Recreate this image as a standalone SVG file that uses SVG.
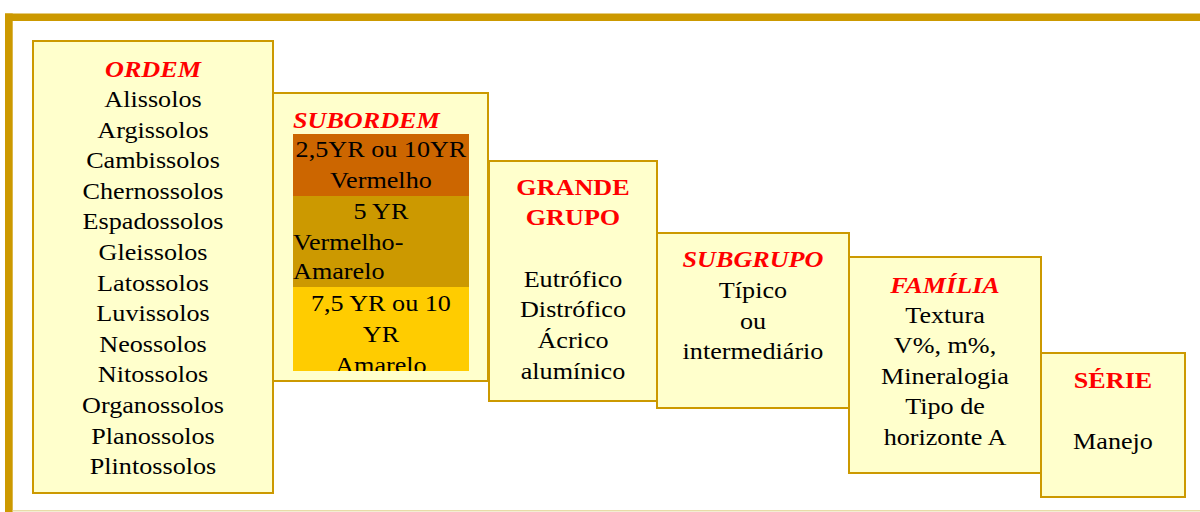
<svg xmlns="http://www.w3.org/2000/svg" width="1200" height="512" viewBox="0 0 1200 512">
<defs>
<style>
.box{fill:#FFFFCC;stroke:#CC9900;stroke-width:2}
text{font-family:"Liberation Serif","Times New Roman",serif;font-size:24px;fill:#000;text-anchor:middle}
.ti{fill:#FF0000;font-weight:bold;font-style:italic}
.tb{fill:#FF0000;font-weight:bold}
.l{text-anchor:start}
</style>
<clipPath id="bandclip"><rect x="293" y="134" width="176" height="237"/></clipPath>
</defs>
<rect x="0" y="0" width="1200" height="512" fill="#FFFFFF"/>
<g id="frame">
<rect x="5" y="13.5" width="1195" height="7.5" fill="#CC9900"/>
<rect x="5" y="13.5" width="7.7" height="498.5" fill="#CC9900"/>
<line x1="12.7" y1="510.7" x2="1200" y2="510.7" stroke="#E8DCA8" stroke-width="1.5"/>
</g>
<g id="connectors"></g>
<g id="ordem">
<rect class="box" x="33" y="41" width="240" height="452"/>
<g transform="translate(153,0) scale(1.09,1)">
<text class="ti" x="0" y="77">ORDEM</text>
<text x="0" y="107">Alissolos</text>
<text x="0" y="137.6">Argissolos</text>
<text x="0" y="168.2">Cambissolos</text>
<text x="0" y="198.8">Chernossolos</text>
<text x="0" y="229.4">Espadossolos</text>
<text x="0" y="260">Gleissolos</text>
<text x="0" y="290.6">Latossolos</text>
<text x="0" y="321.2">Luvissolos</text>
<text x="0" y="351.8">Neossolos</text>
<text x="0" y="382.4">Nitossolos</text>
<text x="0" y="413">Organossolos</text>
<text x="0" y="443.6">Planossolos</text>
<text x="0" y="474.2">Plintossolos</text>
</g>
</g>
<g id="subordem">
<rect class="box" x="273" y="93" width="215" height="288"/>
<rect x="293" y="134" width="176" height="62" fill="#CC6600"/>
<rect x="293" y="196" width="176" height="91" fill="#CC9900"/>
<rect x="293" y="287" width="176" height="84" fill="#FFCC00"/>
<g clip-path="url(#bandclip)">
<g transform="translate(293,0) scale(1.09,1)">
<text x="80.7" y="157">2,5YR ou 10YR</text>
<text x="80.7" y="188">Vermelho</text>
<text x="80.7" y="219">5 YR</text>
<text class="l" x="0" y="250">Vermelho-</text>
<text class="l" x="0" y="279">Amarelo</text>
<text x="80.7" y="311">7,5 YR ou 10</text>
<text x="80.7" y="342">YR</text>
<text x="80.7" y="373">Amarelo</text>
</g>
</g>
<g transform="translate(293,0) scale(1.09,1)">
<text class="ti l" x="0" y="128">SUBORDEM</text>
</g>
</g>
<g id="grande-grupo">
<rect class="box" x="489" y="161" width="168" height="240"/>
<g transform="translate(573,0) scale(1.09,1)">
<text class="tb" x="0" y="195">GRANDE</text>
<text class="tb" x="0" y="225">GRUPO</text>
<text x="0" y="287">Eutrófico</text>
<text x="0" y="317.5">Distrófico</text>
<text x="0" y="348">Ácrico</text>
<text x="0" y="379">alumínico</text>
</g>
</g>
<g id="subgrupo">
<rect class="box" x="657" y="233" width="192" height="175"/>
<g transform="translate(753,0) scale(1.09,1)">
<text class="ti" x="0" y="267">SUBGRUPO</text>
<text x="0" y="298">Típico</text>
<text x="0" y="329">ou</text>
<text x="0" y="359">intermediário</text>
</g>
</g>
<g id="familia">
<rect class="box" x="849" y="257" width="192" height="216"/>
<g transform="translate(945,0) scale(1.09,1)">
<text class="ti" x="0" y="293">FAMÍLIA</text>
<text x="0" y="323">Textura</text>
<text x="0" y="353.5">V%, m%,</text>
<text x="0" y="384">Mineralogia</text>
<text x="0" y="414.5">Tipo de</text>
<text x="0" y="445">horizonte A</text>
</g>
</g>
<g id="serie">
<rect class="box" x="1041" y="353" width="144" height="144"/>
<g transform="translate(1113,0) scale(1.09,1)">
<text class="tb" x="0" y="388">SÉRIE</text>
<text x="0" y="449">Manejo</text>
</g>
</g>
</svg>
